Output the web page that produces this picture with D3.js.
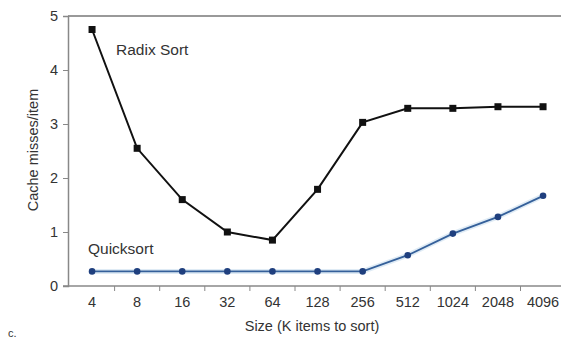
<!DOCTYPE html>
<html><head><meta charset="utf-8">
<script src="https://cdn.jsdelivr.net/npm/d3@7"></script>
<style>
body{margin:0;background:#fff;}
text{font-family:"Liberation Sans",Arial,sans-serif;}
</style></head>
<body><svg id="c" width="561" height="338"></svg>
<script>
const sizes = ["4","8","16","32","64","128","256","512","1024","2048","4096"];
const radixSort = [4.75, 2.55, 1.6, 1.0, 0.85, 1.79, 3.03, 3.29, 3.29, 3.32, 3.32];
const quickSort = [0.27, 0.27, 0.27, 0.27, 0.27, 0.27, 0.27, 0.57, 0.97, 1.28, 1.67];
const yTicks = [0,1,2,3,4,5];

const svg = d3.select("#c");
const x = d3.scaleBand().domain(sizes).range([69.5, 565.6]);
const cx = d => x(d) + x.bandwidth()/2;
const y = d3.scaleLinear().domain([0,5]).range([286,16]);
const fs = 14.5;

// top frame line
svg.append("line").attr("x1",68).attr("x2",561).attr("y1",y(5)).attr("y2",y(5))
  .attr("stroke","#999").attr("stroke-width",2);

// y axis
const ya = svg.append("g").attr("transform","translate(68,0)")
  .call(d3.axisLeft(y).tickValues(yTicks).tickSize(5).tickPadding(5).tickFormat(d3.format("d")));
ya.select(".domain").attr("stroke","#888").attr("stroke-width",1.5);
ya.selectAll(".tick line").attr("stroke","#888");
ya.selectAll("text").attr("font-size",fs).attr("fill","#333").attr("font-family","Liberation Sans, Arial, sans-serif");

// x axis
svg.append("line").attr("x1",63).attr("x2",561).attr("y1",286).attr("y2",286)
  .attr("stroke","#888").attr("stroke-width",1.5);
const xa = svg.append("g").attr("transform","translate(0,286)")
  .call(d3.axisBottom(x).tickSize(0).tickPadding(11));
xa.select(".domain").remove();
xa.selectAll("text").attr("font-size",fs).attr("fill","#333").attr("font-family","Liberation Sans, Arial, sans-serif");
svg.append("g").selectAll("line").data(sizes.slice(1)).join("line")
  .attr("x1",d=>x(d)).attr("x2",d=>x(d)).attr("y1",286).attr("y2",291)
  .attr("stroke","#888");

// axis titles
svg.append("text").attr("transform","translate(38,150) rotate(-90)")
  .attr("text-anchor","middle").attr("font-size",fs).attr("fill","#333").text("Cache misses/item");
svg.append("text").attr("x",312).attr("y",331).attr("text-anchor","middle")
  .attr("font-size",fs).attr("fill","#333").text("Size (K items to sort)");
svg.append("text").attr("x",8).attr("y",337).attr("font-size",11).attr("fill","#333").text("c.");

// lines
const line = d3.line().x((d,i)=>cx(sizes[i])).y(d=>y(d));
svg.append("path").datum(quickSort).attr("d",line).attr("fill","none")
  .attr("stroke","#c9ddef").attr("stroke-width",5).attr("opacity",0.6);
svg.append("path").datum(quickSort).attr("d",line).attr("fill","none")
  .attr("stroke","#35609a").attr("stroke-width",1.8);
svg.append("g").selectAll("circle").data(quickSort).join("circle")
  .attr("cx",(d,i)=>cx(sizes[i])).attr("cy",d=>y(d)).attr("r",3.3).attr("fill","#1f3f7e");

svg.append("path").datum(radixSort).attr("d",line).attr("fill","none")
  .attr("stroke","#111").attr("stroke-width",2);
svg.append("g").selectAll("rect").data(radixSort).join("rect")
  .attr("x",(d,i)=>cx(sizes[i])-3.5).attr("y",d=>y(d)-3.5).attr("width",7).attr("height",7).attr("fill","#111");

// series labels
svg.append("text").attr("x",116).attr("y",55).attr("font-size",15.5).attr("fill","#333").text("Radix Sort");
svg.append("text").attr("x",88).attr("y",254).attr("font-size",15.5).attr("fill","#333").text("Quicksort");
</script></body></html>
